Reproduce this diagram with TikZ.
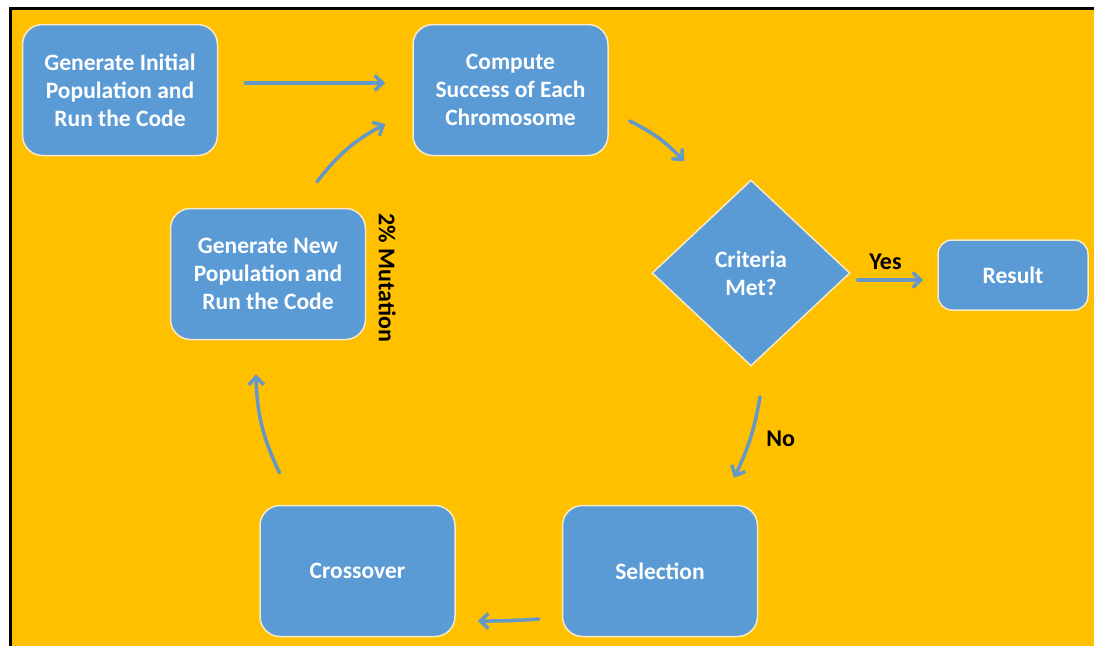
\documentclass[tikz,border=0pt]{standalone}
\usepackage{fontspec}
\setmainfont{Carlito}
\usetikzlibrary{shapes.geometric,arrows.meta,positioning}
\definecolor{gaorange}{HTML}{FFC000}
\definecolor{gablue}{HTML}{5B9BD5}
\definecolor{gaedge}{HTML}{F6EAC6}
\definecolor{gaarrow}{HTML}{6398C8}
\tikzset{block/.style={rectangle, draw=gaedge, line width=1.5pt, fill=gablue, rounded corners=20pt,
		text=white, font=\fontsize{23.5}{28}\selectfont\bfseries, align=center,
		minimum width=195pt, minimum height=131pt, inner sep=0pt},
	line/.style={draw=gaarrow, line width=3.5pt, line cap=round, -{Straight Barb[length=8pt,width=15pt]}},
	lbl/.style={font=\fontsize{24}{28}\selectfont\bfseries, text=black}
}

\begin{document}
\begin{tikzpicture}[x=1pt,y=1pt]
\tikzstyle{decision} = [diamond, draw=gaedge, line width=1.5pt, fill=gablue, text=white,
font=\fontsize{23.5}{28}\selectfont\bfseries, align=center, inner sep=0pt,
minimum width=198pt, minimum height=186pt]

\useasboundingbox (0,0) rectangle (1094,-646);
\fill[gaorange] (10,-8) rectangle (1094,-646);
\draw[black, line width=3pt] (10.5,-646) -- (10.5,-8.5) -- (1094,-8.5);

\node [block] (init) at (120,-90) {Generate Initial\\Population and\\Run the Code};
\node [block, right=194pt of init] (comp) {Compute\\Success of Each\\Chromosome};
\node [decision] (crit) at (751,-273) {Criteria\\Met?};
\node [block, minimum width=150pt, minimum height=70pt, rounded corners=14pt] (res) at (1013,-275) {Result};
\node [block] (sel) at (660,-571) {Selection};
\node [block, left=106pt of sel] (cross) {Crossover};
\node [block] (newpop) at (268,-274) {Generate New\\Population and\\Run the Code};
\node [lbl, rotate=-90] (mut) at ([xshift=21pt,yshift=-4pt]newpop.east) {2\% Mutation}; % turned text beside the box

%Lines
\draw[line] ([xshift=27pt,yshift=7pt]init.east) -- ([xshift=-27pt,yshift=7pt]comp.west);

\draw[line] ([xshift=21pt,yshift=-31pt]comp.east) to[bend left=10] ([xshift=-67pt,yshift=18pt]crit.north);

\draw[line] ([xshift=7pt,yshift=-7pt]crit.east) -- ([xshift=-14pt,yshift=-5pt]res.west) node [lbl, midway, above=5pt, xshift=-5pt] {Yes};

\draw[line] ([xshift=9pt,yshift=-30pt]crit.south) to[bend left=8] node [lbl, right=11pt] {No} ([xshift=74pt,yshift=27pt]sel.north);

\draw[line] ([xshift=-23pt,yshift=-48pt]sel.west) to[bend left=2] ([xshift=22pt,yshift=-50pt]cross.east);

\draw[line] ([xshift=-78pt,yshift=32pt]cross.north) to[bend left=12] ([xshift=-12pt,yshift=-34pt]newpop.south);

\draw[line] ([xshift=49pt,yshift=26pt]newpop.north) to[bend left=12] ([xshift=-27pt,yshift=-34pt]comp.west);
\end{tikzpicture}
\end{document}
